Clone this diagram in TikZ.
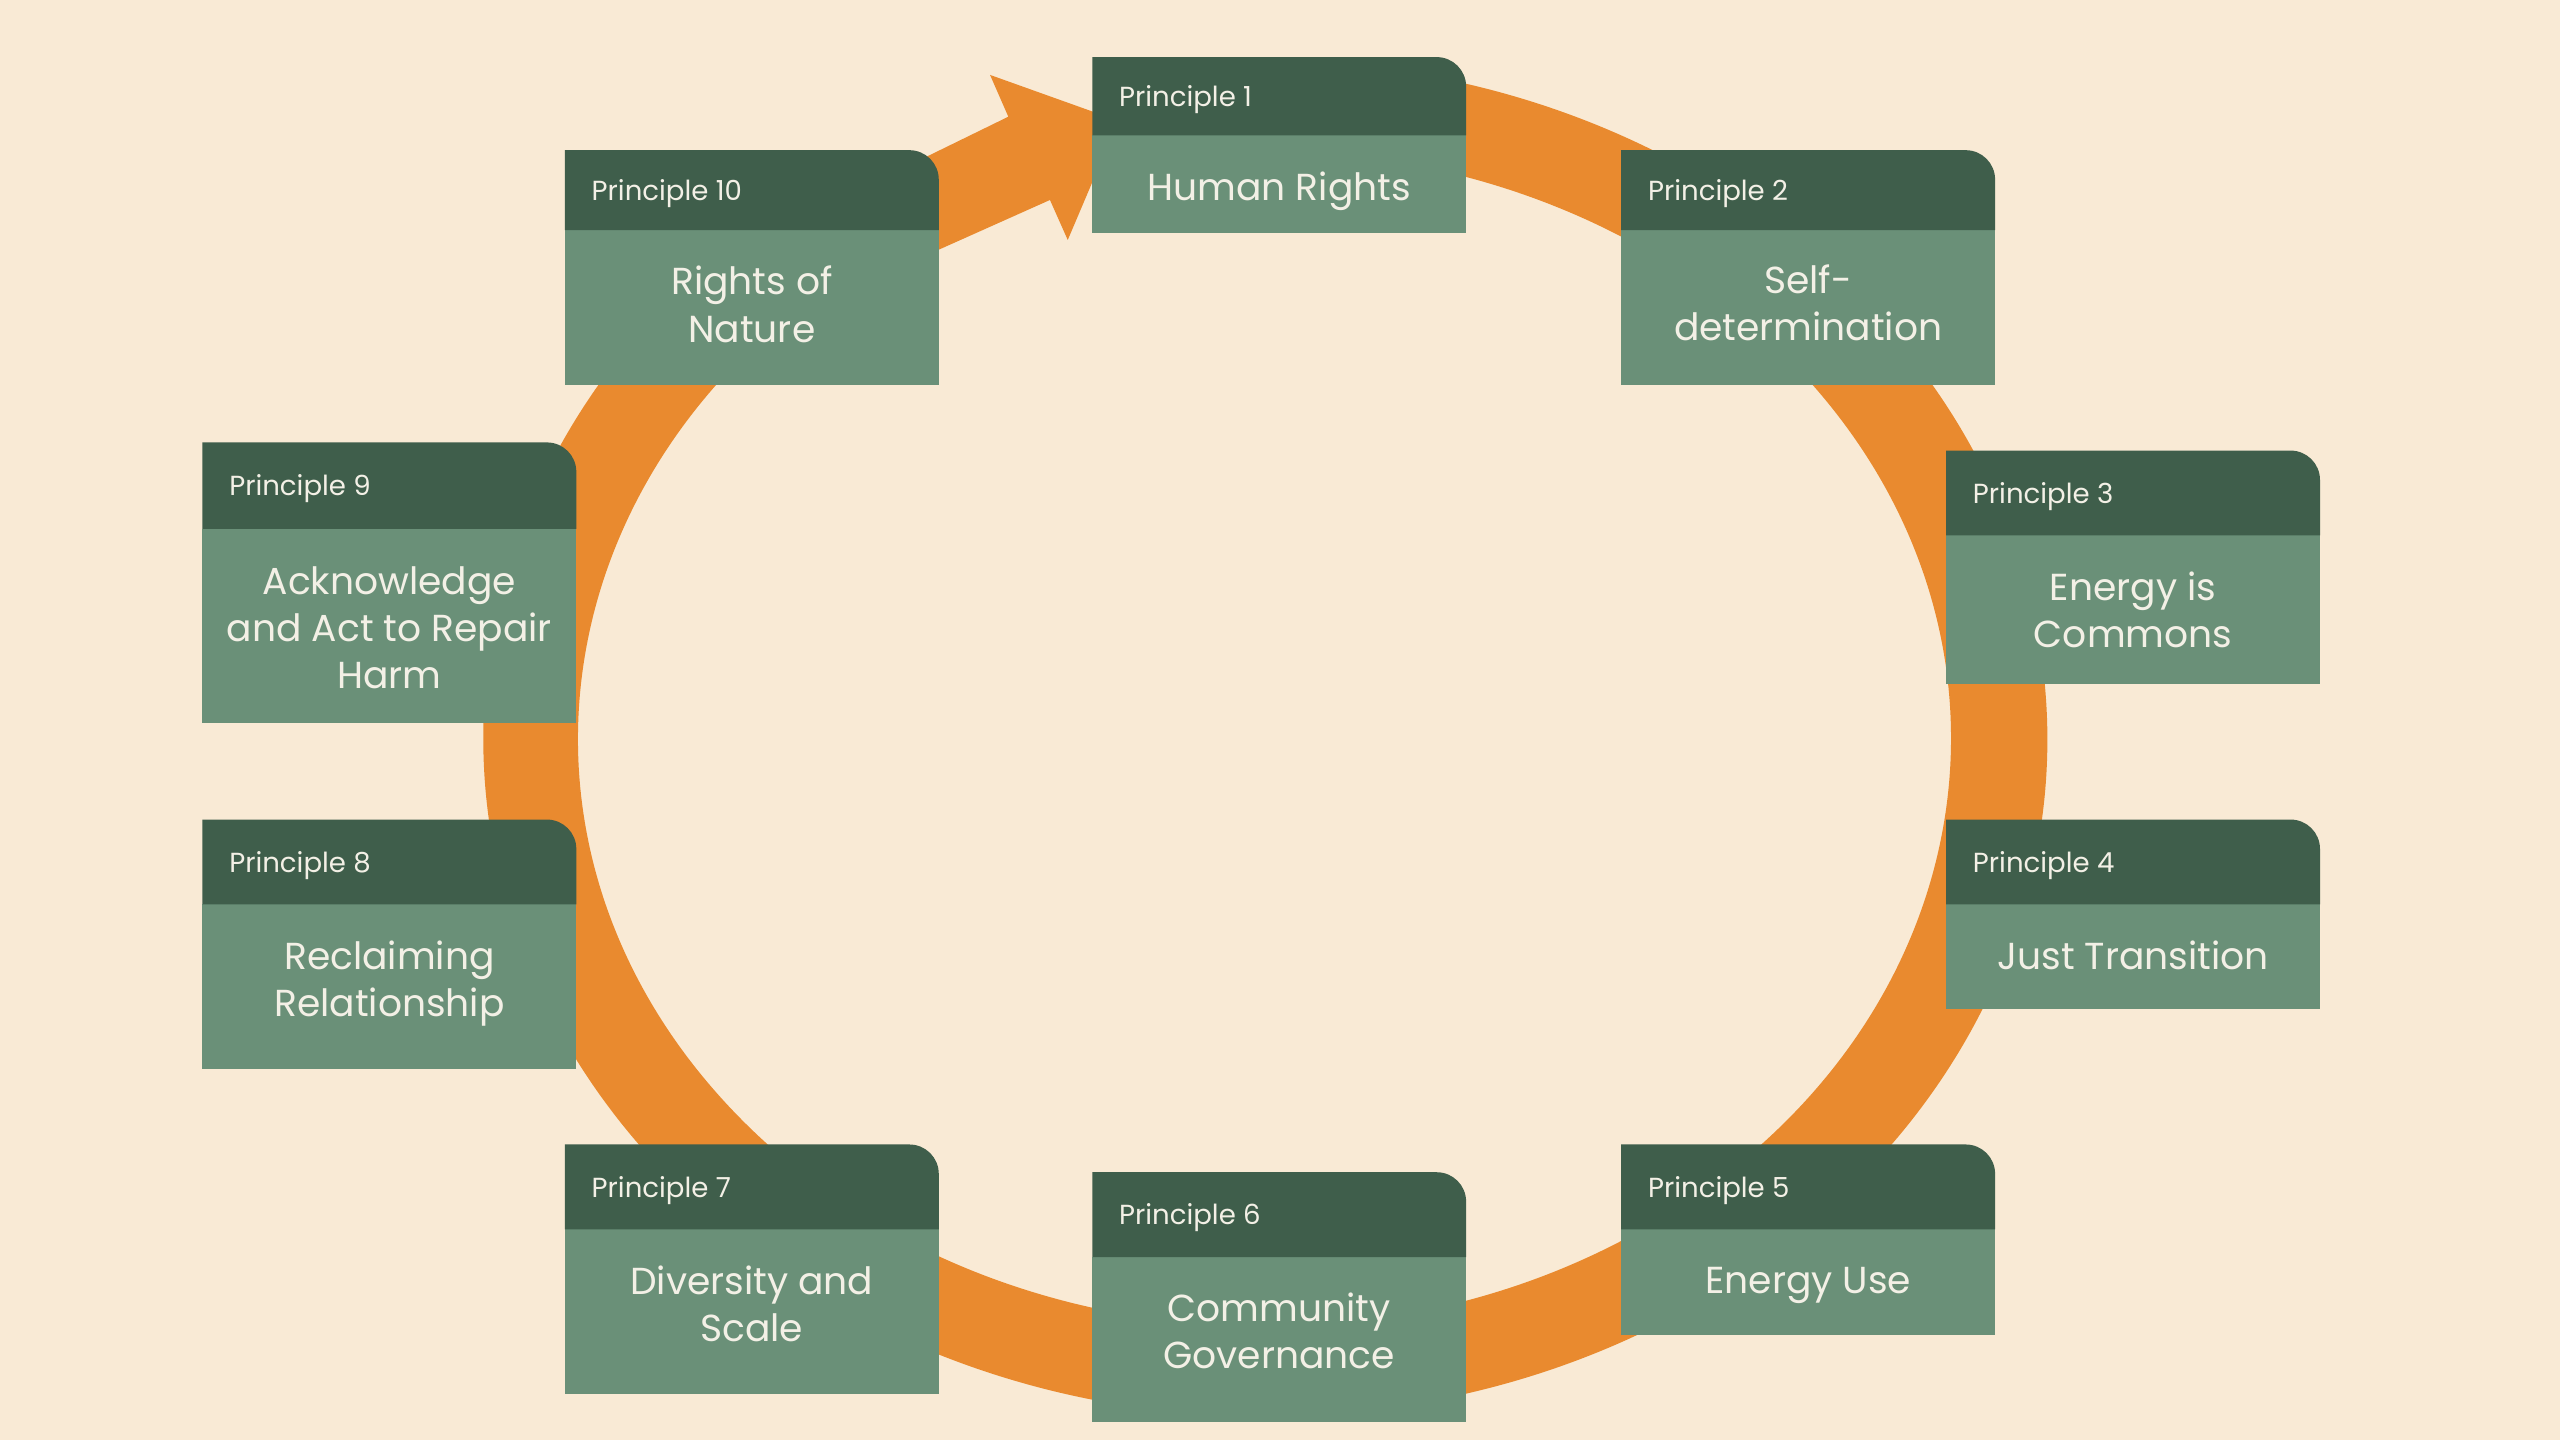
\documentclass[tikz,border=0pt]{standalone}
\usepackage{fontspec}
\setmainfont{Poppins}
\usetikzlibrary{calc}
\definecolor{bgc}{HTML}{F9EAD5}
\definecolor{ringc}{HTML}{E98A2F}
\definecolor{hdrc}{HTML}{3F5E4B}
\definecolor{bodyc}{HTML}{6A9078}
\definecolor{txtc}{HTML}{F3F0E6}
\tikzset{
  hdrtext/.style={text=txtc, inner sep=0pt, anchor=west, font=\fontsize{7.85}{9.5}\selectfont},
  ttltext/.style={text=txtc, inner sep=0pt, align=center, font=\fontsize{10.7}{13.5}\selectfont},
  ringfill/.style={fill=ringc},
}
% #1 name, #2 left x, #3 top, #4 header bottom, #5 bottom, #6 label, #7 title, #8 title offset
\newcommand\princbox[8]{%
  \fill[bodyc] (#2,#5) rectangle ({#2+229},#4);
  \fill[hdrc] (#2,#4) -- (#2,#3) -- ({#2+211},#3) arc[start angle=90, end angle=0, radius=18] -- ({#2+229},#4) -- cycle;
  \node[hdrtext] (#1h) at ({#2+16},{(#3+#4)/2-2}) {#6};
  \node[ttltext] (#1) at ({#2+114.5},{(#4+#5)/2+#8}) {#7};
}
\begin{document}
\begin{tikzpicture}[x=0.016327cm, y=0.016327cm]
\fill[bgc] (0,0) rectangle (1568,882);
\useasboundingbox (0,0) rectangle (1568,882);
\coordinate (co) at (775,429.5);
\coordinate (ci) at (774.5,429.5);
% ring
\fill[ringfill] ($(co)+(96.6:479 and 415)$) arc[start angle=96.6, end angle=-237.83, x radius=479, y radius=415]
  -- ($(ci)+(-232.75:420.5 and 360)$) arc[start angle=-232.75, end angle=97.45, x radius=420.5, y radius=360] -- cycle;
% arrow shaft and head
\fill[ringfill] (500,753) -- (617.6,810.5) -- (606.4,836.1) -- (685,808) -- (654,735) -- (643.1,759.5) -- (500,695.5) -- cycle;
% boxes
\princbox{p1}{669}{847}{799}{739}{Principle 1}{Human Rights}{-4}
\princbox{p2}{993}{790}{741}{646}{Principle 2}{Self-\\determination}{3}
\princbox{p3}{1192}{606}{554}{463}{Principle 3}{Energy is\\Commons}{0}
\princbox{p4}{1192}{380}{328}{264}{Principle 4}{Just Transition}{1}
\princbox{p5}{993}{181}{129}{64}{Principle 5}{Energy Use}{-2}
\princbox{p6}{669}{164}{112}{11}{Principle 6}{Community\\Governance}{5.5}
\princbox{p7}{346}{181}{129}{28}{Principle 7}{Diversity and\\Scale}{5}
\princbox{p8}{124}{380}{328}{227}{Principle 8}{Reclaiming\\Relationship}{2}
\princbox{p9}{124}{611}{558}{439}{Principle 9}{Acknowledge\\and Act to Repair\\Harm}{-1}
\princbox{p10}{346}{790}{741}{646}{Principle 10}{Rights of\\Nature}{2}
\end{tikzpicture}
\end{document}
